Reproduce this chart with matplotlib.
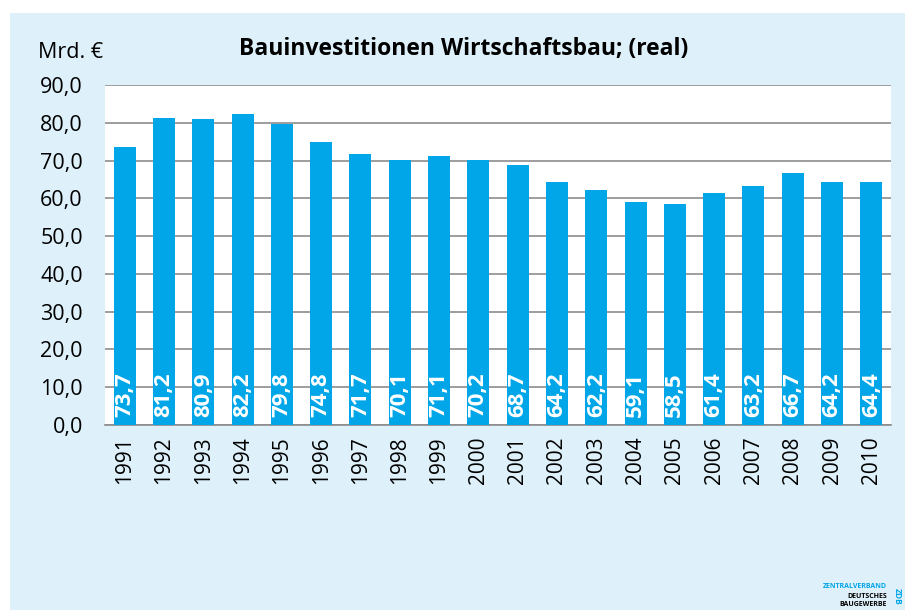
import matplotlib
matplotlib.use("Agg")
from matplotlib import pyplot as plt
from matplotlib.patches import Rectangle

years = [str(y) for y in range(1991, 2011)]
values = [73.7, 81.2, 80.9, 82.2, 79.8, 74.8, 71.7, 70.1, 71.1, 70.2,
          68.7, 64.2, 62.2, 59.1, 58.5, 61.4, 63.2, 66.7, 64.2, 64.4]
yticks = [0, 10, 20, 30, 40, 50, 60, 70, 80, 90]

bar_color = "#00A6E8"
panel_color = "#DEF0FA"

plt.rcParams["font.family"] = ["Open Sans", "DejaVu Sans"]

fig = plt.figure(figsize=(9.05, 6.1), dpi=100)
fig.patch.set_facecolor("white")
# light blue panel behind everything
fig.patches.append(Rectangle((10 / 905, 0), 1, 1 - 13 / 610,
                             transform=fig.transFigure, facecolor=panel_color,
                             edgecolor="none", zorder=-10))

ax = fig.add_axes([105 / 905, 1 - 425 / 610, 786 / 905, 340 / 610])
ax.set_facecolor("white")
x = range(len(years))
ax.bar(x, values, width=0.56, color=bar_color, zorder=3)
for i, v in enumerate(values):
    ax.text(i, 2.0, f"{v:.1f}".replace(".", ","), rotation=90, ha="center",
            va="bottom", color="white", fontsize=16, fontweight="bold", zorder=4)

ax.set_xlim(-0.5, len(years) - 0.5)
ax.set_ylim(0, 90)
ax.set_yticks(yticks)
ax.set_yticklabels([f"{t:.1f}".replace(".", ",") for t in yticks], fontsize=15.5)
ax.tick_params(axis="y", length=0, pad=16)
ax.set_xticks(list(x))
ax.set_xticklabels(years, rotation=90, fontsize=15)
ax.tick_params(axis="x", length=0, pad=8)
ax.yaxis.grid(True, color="#8C8C8C", linewidth=1.2, zorder=0)
for s in ["top", "right", "left"]:
    ax.spines[s].set_visible(False)
ax.spines["bottom"].set_color("#8C8C8C")
ax.spines["bottom"].set_linewidth(1.2)

fig.text(38 / 905, 1 - 53 / 610, "Mrd. €", fontsize=15.5, va="center", ha="left")
fig.text(464 / 905, 1 - 49 / 610, "Bauinvestitionen Wirtschaftsbau; (real)",
         fontsize=16.5, fontweight="bold", va="center", ha="center")

# logo text
fig.text(887 / 905, 1 - 586 / 610, "ZENTRALVERBAND", fontsize=5, fontweight="bold",
         color=bar_color, ha="right", va="center")
fig.text(887 / 905, 1 - 596 / 610, "DEUTSCHES", fontsize=5, fontweight="bold",
         color="black", ha="right", va="center")
fig.text(887 / 905, 1 - 605 / 610, "BAUGEWERBE", fontsize=5, fontweight="bold",
         color="black", ha="right", va="center")
fig.text(897 / 905, 1 - 596 / 610, "ZDB", fontsize=6, fontweight="bold",
         color=bar_color, rotation=270, ha="center", va="center")

fig.savefig("out.png", dpi=100)
